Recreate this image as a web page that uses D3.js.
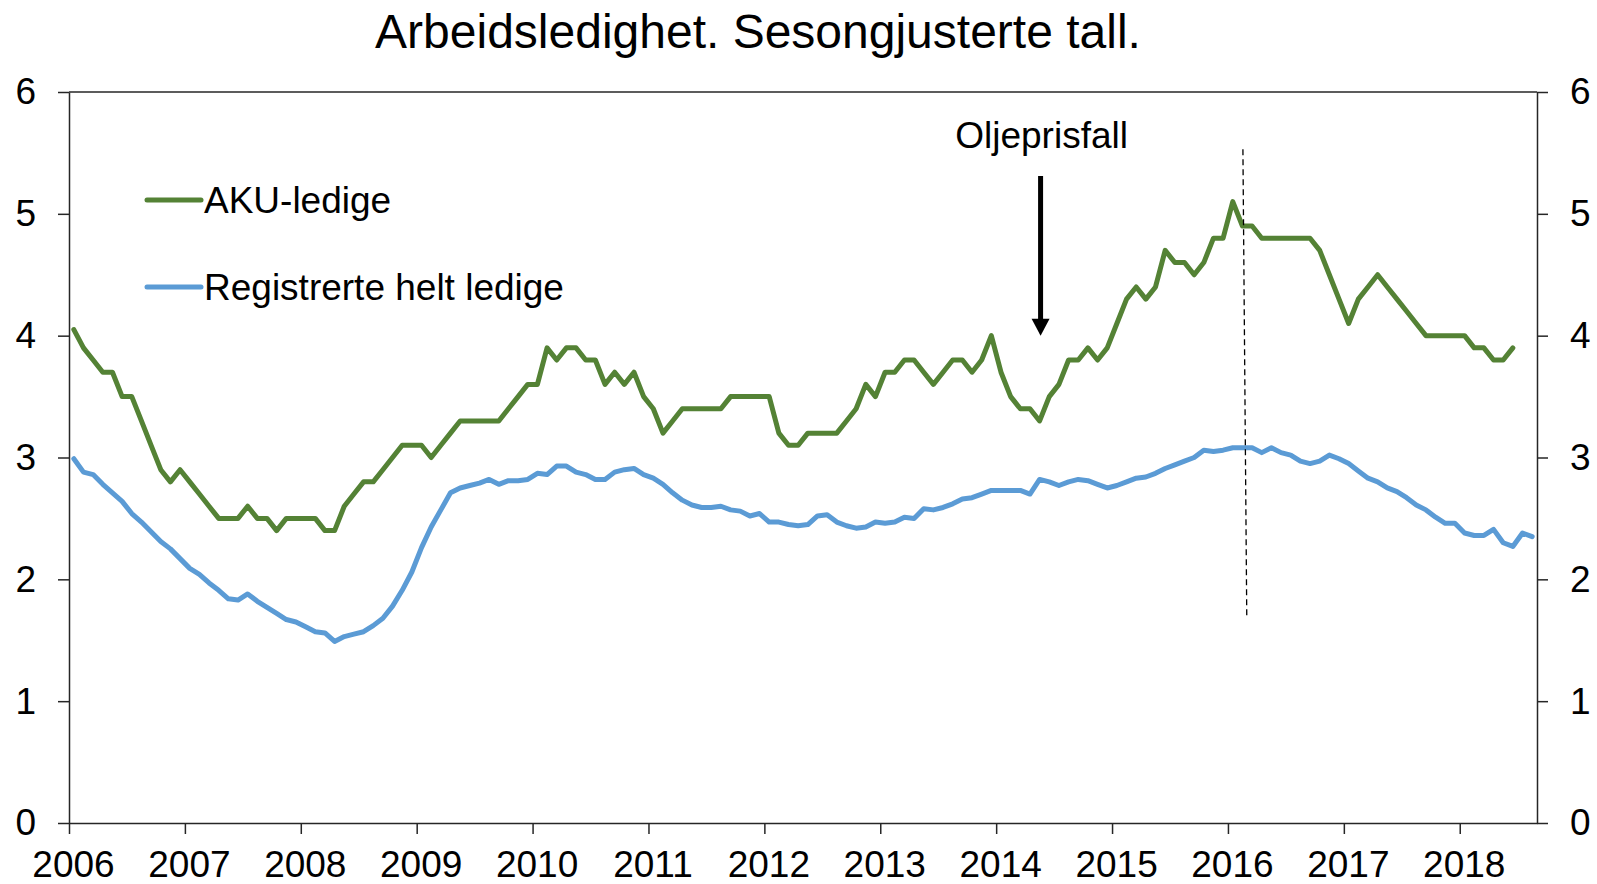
<!DOCTYPE html>
<html>
  <head>
    <meta charset="utf-8">
    <title>Arbeidsledighet</title>
    <script src="https://d3js.org/d3.v7.min.js"></script>
    <style>
      body { margin: 0; background: #fff; }
      text { font-family: "Liberation Sans", Arial, sans-serif; fill: #000; }
      .axis path, .axis line { stroke: #262626; stroke-width: 1.5; }
      .axis text { font-size: 37px; }
    </style>
  </head>
  <body>
    <svg id="chart" width="1597" height="884"></svg>
    <script>
      // monthly data, Jan 2006 onwards
      years = d3.range(2006, 2019);
      yTicks = [0, 1, 2, 3, 4, 5, 6];
      akuLedige = [
        4.05, 3.9, 3.8, 3.7, 3.7, 3.5, 3.5, 3.3, 3.1, 2.9, 2.8, 2.9,
        2.8, 2.7, 2.6, 2.5, 2.5, 2.5, 2.6, 2.5, 2.5, 2.4, 2.5, 2.5,
        2.5, 2.5, 2.4, 2.4, 2.6, 2.7, 2.8, 2.8, 2.9, 3.0, 3.1, 3.1,
        3.1, 3.0, 3.1, 3.2, 3.3, 3.3, 3.3, 3.3, 3.3, 3.4, 3.5, 3.6,
        3.6, 3.9, 3.8, 3.9, 3.9, 3.8, 3.8, 3.6, 3.7, 3.6, 3.7, 3.5,
        3.4, 3.2, 3.3, 3.4, 3.4, 3.4, 3.4, 3.4, 3.5, 3.5, 3.5, 3.5,
        3.5, 3.2, 3.1, 3.1, 3.2, 3.2, 3.2, 3.2, 3.3, 3.4, 3.6, 3.5,
        3.7, 3.7, 3.8, 3.8, 3.7, 3.6, 3.7, 3.8, 3.8, 3.7, 3.8, 4.0,
        3.7, 3.5, 3.4, 3.4, 3.3, 3.5, 3.6, 3.8, 3.8, 3.9, 3.8, 3.9,
        4.1, 4.3, 4.4, 4.3, 4.4, 4.7, 4.6, 4.6, 4.5, 4.6, 4.8, 4.8,
        5.1, 4.9, 4.9, 4.8, 4.8, 4.8, 4.8, 4.8, 4.8, 4.7, 4.5, 4.3,
        4.1, 4.3, 4.4, 4.5, 4.4, 4.3, 4.2, 4.1, 4.0, 4.0, 4.0, 4.0,
        4.0, 3.9, 3.9, 3.8, 3.8, 3.9
      ];
      registrerte = [
        2.99, 2.88, 2.86, 2.78, 2.71, 2.64, 2.54, 2.47, 2.39, 2.31, 2.25, 2.17,
        2.09, 2.04, 1.97, 1.91, 1.84, 1.83, 1.88, 1.82, 1.77, 1.72, 1.67, 1.65,
        1.61, 1.57, 1.56, 1.49, 1.53, 1.55, 1.57, 1.62, 1.68, 1.78, 1.91, 2.06,
        2.26, 2.43, 2.57, 2.71, 2.75, 2.77, 2.79, 2.82, 2.78, 2.81, 2.81, 2.82,
        2.87, 2.86, 2.93, 2.93, 2.88, 2.86, 2.82, 2.82, 2.88, 2.90, 2.91, 2.86,
        2.83, 2.78, 2.71, 2.65, 2.61, 2.59, 2.59, 2.60, 2.57, 2.56, 2.52, 2.54,
        2.47, 2.47, 2.45, 2.44, 2.45, 2.52, 2.53, 2.47, 2.44, 2.42, 2.43, 2.47,
        2.46, 2.47, 2.51, 2.50, 2.58, 2.57, 2.59, 2.62, 2.66, 2.67, 2.70, 2.73,
        2.73, 2.73, 2.73, 2.70, 2.82, 2.80, 2.77, 2.80, 2.82, 2.81, 2.78, 2.75,
        2.77, 2.80, 2.83, 2.84, 2.87, 2.91, 2.94, 2.97, 3.00, 3.06, 3.05, 3.06,
        3.08, 3.08, 3.08, 3.04, 3.08, 3.04, 3.02, 2.97, 2.95, 2.97, 3.02, 2.99,
        2.95, 2.89, 2.83, 2.80, 2.75, 2.72, 2.67, 2.61, 2.57, 2.51, 2.46, 2.46,
        2.38, 2.36, 2.36, 2.41, 2.30, 2.27, 2.38, 2.35
      ];
      seriesNames = ["AKU-ledige", "Registrerte helt ledige"];
      seriesColours = ["#548235", "#5b9bd5"];
      // annotations, in months since Jan 2006 and percent
      arrowAt = { month: 100.6, from: 5.31, to: 4.0 };
      arrowLabel = "Oljeprisfall";
      markerLine = [{ month: 121.55, value: 5.53 }, { month: 121.95, value: 1.68 }];

      svg = d3.select("#chart");
      x = d3.scaleLinear().domain([0, 152]).range([69, 1537]);
      y = d3.scaleLinear().domain([0, 6]).range([823, 92]);

      // top frame line
      svg.append("line")
        .attr("x1", x(0)).attr("x2", x(152))
        .attr("y1", y(6)).attr("y2", y(6))
        .attr("stroke", "#262626").attr("stroke-width", 1.5);

      svg.append("g")
        .attr("class", "axis")
        .attr("transform", "translate(0," + y(0) + ")")
        .call(d3.axisBottom(x)
          .tickValues(years.map(function(d) { return (d - 2006) * 12; }))
          .tickFormat(function(d) { return 2006 + d / 12; })
          .tickSizeInner(11).tickSizeOuter(0).tickPadding(17))
        .selectAll("text").attr("dx", 4);

      svg.append("g")
        .attr("class", "axis")
        .attr("transform", "translate(" + x(0) + ",0)")
        .call(d3.axisLeft(y).tickValues(yTicks).tickFormat(d3.format("d"))
          .tickSizeInner(11).tickSizeOuter(0).tickPadding(22));

      svg.append("g")
        .attr("class", "axis")
        .attr("transform", "translate(" + x(152) + ",0)")
        .call(d3.axisRight(y).tickValues(yTicks).tickFormat(d3.format("d"))
          .tickSizeInner(11).tickSizeOuter(0).tickPadding(22));

      svg.selectAll(".axis text").attr("font-family", null).attr("font-size", null);

      // lines
      line = d3.line()
        .x(function(d, i) { return x(i + 0.5); })
        .y(function(d) { return y(d); });
      [akuLedige, registrerte].forEach(function(s, i) {
        svg.append("path")
          .datum(s)
          .attr("d", line)
          .attr("fill", "none")
          .attr("stroke", seriesColours[i])
          .attr("stroke-width", 5)
          .attr("stroke-linejoin", "round")
          .attr("stroke-linecap", "round");
      });

      // dashed marker
      svg.append("line")
        .attr("x1", x(markerLine[0].month)).attr("y1", y(markerLine[0].value))
        .attr("x2", x(markerLine[1].month)).attr("y2", y(markerLine[1].value))
        .attr("stroke", "#000").attr("stroke-width", 1.3)
        .attr("stroke-dasharray", "6,4");

      // arrow
      svg.append("line")
        .attr("x1", x(arrowAt.month)).attr("y1", y(arrowAt.from))
        .attr("x2", x(arrowAt.month)).attr("y2", y(arrowAt.to) - 8)
        .attr("stroke", "#000").attr("stroke-width", 5);
      svg.append("path")
        .attr("d", "M" + (x(arrowAt.month) - 9) + "," + (y(arrowAt.to) - 17) +
          "L" + (x(arrowAt.month) + 9) + "," + (y(arrowAt.to) - 17) +
          "L" + x(arrowAt.month) + "," + y(arrowAt.to) + "Z")
        .attr("fill", "#000");
      svg.append("text")
        .attr("x", x(arrowAt.month) + 1)
        .attr("y", 148)
        .attr("text-anchor", "middle")
        .attr("font-size", 37)
        .text(arrowLabel);

      // legend
      legend = svg.append("g").attr("transform", "translate(147,200)");
      seriesNames.forEach(function(n, i) {
        let g = legend.append("g").attr("transform", "translate(0," + i * 87 + ")");
        g.append("line")
          .attr("x1", 0).attr("x2", 54)
          .attr("stroke", seriesColours[i])
          .attr("stroke-width", 5)
          .attr("stroke-linecap", "round");
        g.append("text")
          .attr("x", 57).attr("y", 12.5)
          .attr("font-size", 37)
          .text(n);
      });

      // title
      svg.append("text")
        .attr("x", 758).attr("y", 48)
        .attr("text-anchor", "middle")
        .attr("font-size", 48)
        .text("Arbeidsledighet. Sesongjusterte tall.");
    </script>
  </body>
</html>
